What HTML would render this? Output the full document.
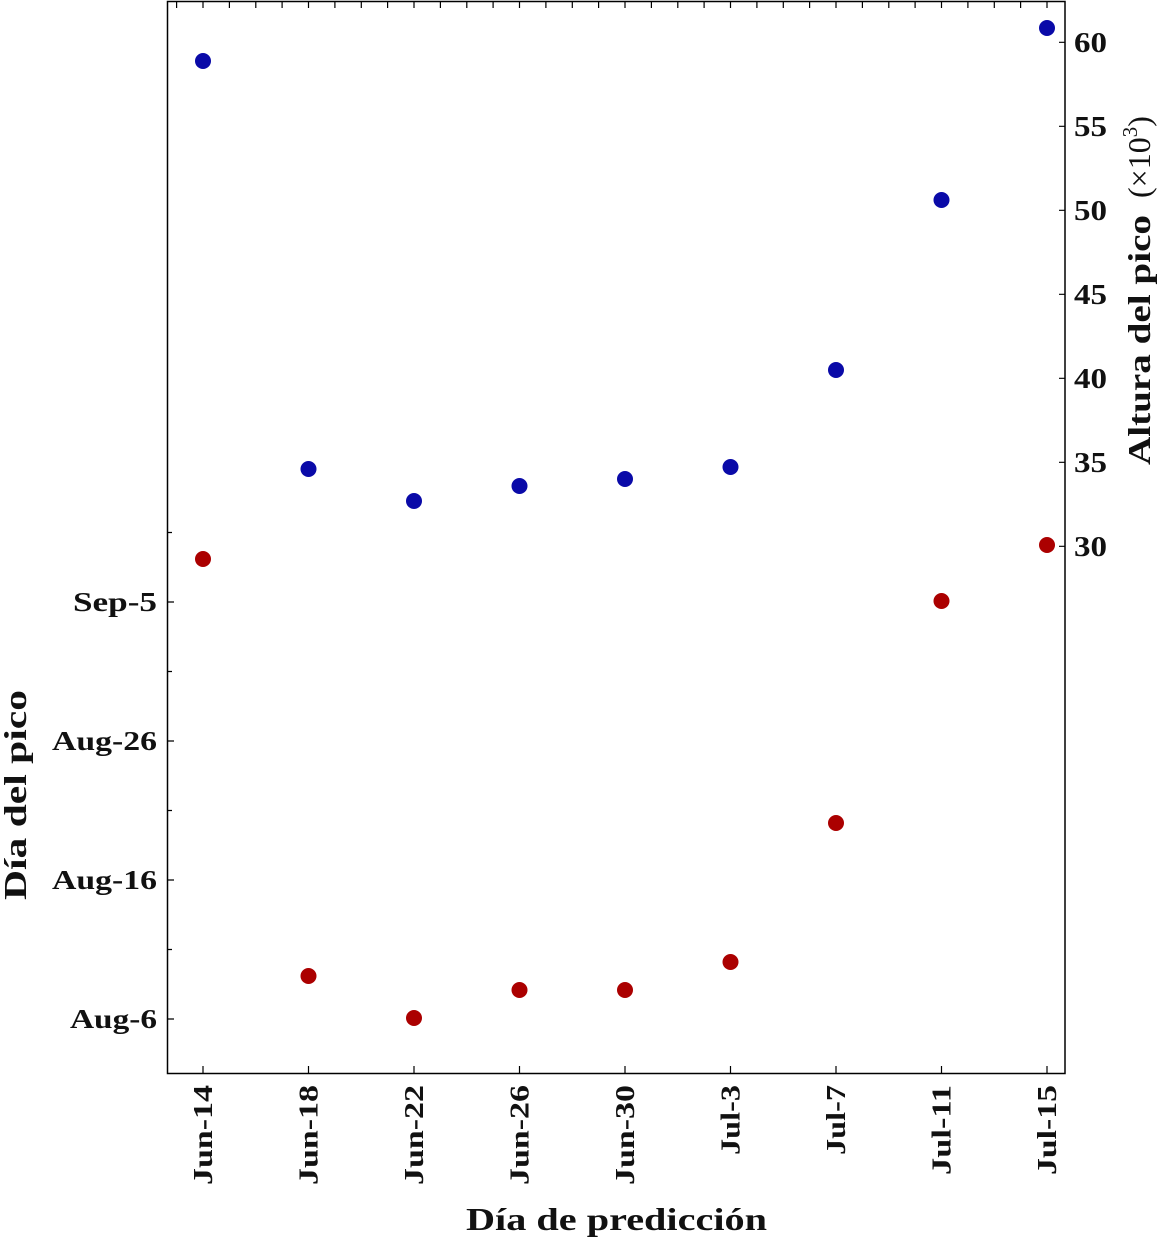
<!DOCTYPE html>
<html><head><meta charset="utf-8"><style>
html,body{margin:0;padding:0;background:#fff}
svg{display:block}
text{font-family:"Liberation Serif",serif;font-weight:bold;fill:#111}
</style></head><body>
<svg width="1161" height="1238" viewBox="0 0 1161 1238" xmlns="http://www.w3.org/2000/svg">
<rect x="167.5" y="1.5" width="897.5" height="1072" fill="none" stroke="#000" stroke-width="1.5"/>
<g stroke="#000" stroke-width="1.2">
<path d="M203 1073v-7M308.5 1073v-7M414 1073v-7M519.5 1073v-7M625 1073v-7M730.5 1073v-7M836 1073v-7M941.5 1073v-7M1047 1073v-7"/>
<path d="M176.6 2v6M203 2v6M229.4 2v6M255.8 2v6M282.1 2v6M308.5 2v6M334.9 2v6M361.3 2v6M387.6 2v6M414 2v6M440.4 2v6M466.8 2v6M493.1 2v6M519.5 2v6M545.9 2v6M572.3 2v6M598.6 2v6M625 2v6M651.4 2v6M677.8 2v6M704.1 2v6M730.5 2v6M756.9 2v6M783.3 2v6M809.6 2v6M836 2v6M862.4 2v6M888.8 2v6M915.1 2v6M941.5 2v6M967.9 2v6M994.3 2v6M1020.6 2v6M1047 2v6"/>
<path d="M168 1019h6M168 880h6M168 741h6M168 602h6M168 949.5h4M168 810.5h4M168 671.5h4M168 532.5h4"/>
<path d="M1065 42.3h-6M1065 126.3h-6M1065 210.3h-6M1065 294.3h-6M1065 378.3h-6M1065 462.3h-6M1065 546.3h-6"/>
</g>
<g fill="#0a0aa8">
<circle cx="203" cy="61" r="8"/><circle cx="308.5" cy="469" r="8"/><circle cx="414" cy="501" r="8"/><circle cx="519.5" cy="486" r="8"/><circle cx="625" cy="479" r="8"/><circle cx="730.5" cy="467" r="8"/><circle cx="836" cy="370" r="8"/><circle cx="941.5" cy="200" r="8"/><circle cx="1047" cy="28" r="8"/>
</g>
<g fill="#ab0000">
<circle cx="203" cy="559" r="8"/><circle cx="308.5" cy="976" r="8"/><circle cx="414" cy="1018" r="8"/><circle cx="519.5" cy="990" r="8"/><circle cx="625" cy="990" r="8"/><circle cx="730.5" cy="962" r="8"/><circle cx="836" cy="823" r="8"/><circle cx="941.5" cy="601" r="8"/><circle cx="1047" cy="545" r="8"/>
</g>
<g font-size="27" text-anchor="end" lengthAdjust="spacingAndGlyphs">
<text x="157" y="1028" textLength="87" lengthAdjust="spacingAndGlyphs">Aug-6</text>
<text x="157" y="889" textLength="105" lengthAdjust="spacingAndGlyphs">Aug-16</text>
<text x="157" y="750" textLength="105" lengthAdjust="spacingAndGlyphs">Aug-26</text>
<text x="157" y="611" textLength="84" lengthAdjust="spacingAndGlyphs">Sep-5</text>
</g>
<g font-size="28" text-anchor="start">
<text x="1074" y="52" textLength="33" lengthAdjust="spacingAndGlyphs">60</text><text x="1074" y="136" textLength="33" lengthAdjust="spacingAndGlyphs">55</text><text x="1074" y="220" textLength="33" lengthAdjust="spacingAndGlyphs">50</text><text x="1074" y="304" textLength="33" lengthAdjust="spacingAndGlyphs">45</text><text x="1074" y="388" textLength="33" lengthAdjust="spacingAndGlyphs">40</text><text x="1074" y="472" textLength="33" lengthAdjust="spacingAndGlyphs">35</text><text x="1074" y="556" textLength="33" lengthAdjust="spacingAndGlyphs">30</text>
</g>
<g font-size="27" text-anchor="end">
<text transform="translate(212,1085) rotate(-90)" textLength="100" lengthAdjust="spacingAndGlyphs">Jun-14</text>
<text transform="translate(317.5,1085) rotate(-90)" textLength="100" lengthAdjust="spacingAndGlyphs">Jun-18</text>
<text transform="translate(423,1085) rotate(-90)" textLength="100" lengthAdjust="spacingAndGlyphs">Jun-22</text>
<text transform="translate(528.5,1085) rotate(-90)" textLength="100" lengthAdjust="spacingAndGlyphs">Jun-26</text>
<text transform="translate(634,1085) rotate(-90)" textLength="100" lengthAdjust="spacingAndGlyphs">Jun-30</text>
<text transform="translate(739.5,1085) rotate(-90)" textLength="70" lengthAdjust="spacingAndGlyphs">Jul-3</text>
<text transform="translate(845,1085) rotate(-90)" textLength="70" lengthAdjust="spacingAndGlyphs">Jul-7</text>
<text transform="translate(950.5,1085) rotate(-90)" textLength="90" lengthAdjust="spacingAndGlyphs">Jul-11</text>
<text transform="translate(1056,1085) rotate(-90)" textLength="90" lengthAdjust="spacingAndGlyphs">Jul-15</text>
</g>
<text x="466" y="1230" font-size="32" textLength="301" lengthAdjust="spacingAndGlyphs">Día de predicción</text>
<text transform="translate(26,900) rotate(-90)" font-size="32" textLength="210" lengthAdjust="spacingAndGlyphs">Día del pico</text>
<text transform="translate(1150,465) rotate(-90)" font-size="32" textLength="250" lengthAdjust="spacingAndGlyphs">Altura del pico</text>
<text transform="translate(1150,198) rotate(-90)" font-size="32" font-weight="normal" style="font-weight:normal">(×10<tspan font-size="21" dy="-13">3</tspan><tspan dy="13">)</tspan></text>
</svg>
</body></html>
